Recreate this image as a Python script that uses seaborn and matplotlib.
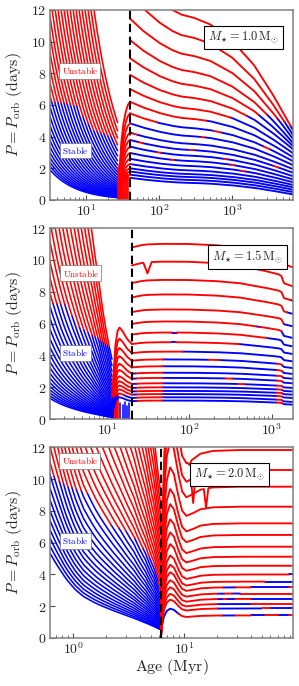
import numpy as np
import pandas as pd
import matplotlib
matplotlib.use("Agg")
import matplotlib.pyplot as plt
from matplotlib.ticker import FuncFormatter, LogLocator, NullFormatter, FixedLocator
import seaborn as sns

sns.set_style("ticks")
plt.rcParams["font.family"] = ["DejaVu Serif"]
plt.rcParams["mathtext.fontset"] = "cm"

# ---------------- general ----------------
mass_labels = ["1.0", "1.5", "2.0"]
x_limits = [(3.2, 6850.0), (2.04, 1800.0), (0.62, 96.0)]
age_break = [40.0, 20.0, 6.2]
y_ticks = [0, 2, 4, 6, 8, 10, 12]

# ================= Panel 1 : M = 1.0 =================
fan1_P0 = [1.9, 2.13, 2.38, 2.67, 2.99, 3.35, 3.75, 4.2, 4.7, 5.27, 5.9, 6.6, 7.4, 8.3,
           9.3, 10.4, 11.6, 13.0, 14.6, 16.3, 18.3, 20.5, 22.9, 25.7, 28.8, 32.2, 36.1,
           40.4, 45.2, 50.7, 56.7, 63.5]
fan1_t = [3.0, 3.2, 4.0, 5.0, 6.5, 8.0, 10.0, 12.5, 15.0, 18.0, 22.0, 27.0]
fan1_g = [1.08, 1.0, 0.765, 0.585, 0.428, 0.333, 0.255, 0.195, 0.157, 0.126, 0.099, 0.077]
crit1_left_t = [3.2, 7.8, 8.9, 12.5, 22.0, 27.0]
crit1_left_P = [6.25, 5.95, 5.3, 4.4, 4.0, 3.5]
dip1_t = [27.5, 28.3, 29.0, 29.8, 30.6, 31.4, 32.3, 33.2, 34.1, 35.0, 36.0, 37.0]
dip1_h = [2.0, 2.2, 1.9, 2.1, 1.8, 2.0, 1.9, 1.7, 1.8, 1.6, 1.7, 1.5]
dip1_c = ["r"] * 12
link1_P = [1.4, 1.6, 1.8, 2.0, 2.27, 2.6, 2.97, 3.37, 3.79, 4.25, 4.84, 5.47, 6.2]
link1_t = [28.0, 29.0, 30.5, 32.5, 35.0, 37.5, 40.0]
link1_s = [0.0, 0.35, 0.6, 0.78, 0.9, 0.97, 1.0]
link1_crit = -1.0
right1_start = [1.4, 1.6, 1.8, 2.0, 2.27, 2.6, 2.97, 3.37, 3.79, 4.25, 4.84, 5.47, 6.2,
                7.0, 7.9, 8.95, 10.1, 11.45, 13.0, 14.7]
right1_end = [0.35, 0.5, 0.65, 0.8, 0.95, 1.12, 1.3, 1.5, 1.72, 1.95, 2.2, 2.45, 2.7,
              2.95, 3.2, 3.4, 3.6, 3.85, 4.1, 4.4]
right1_t = [40, 60, 100, 150, 200, 300, 500, 1000, 2000, 3500, 5000, 6850]
right1_q = [0.0, 0.1, 0.2, 0.26, 0.29, 0.31, 0.35, 0.45, 0.6, 0.77, 0.89, 1.0]
crit1_right_t = [40, 100, 300, 600, 1500, 3000, 5000, 6850]
crit1_right_P = [5.0, 4.9, 4.9, 5.1, 5.3, 5.4, 5.0, 4.6]
flip1 = [(9, 44, 50), (8, 53, 59), (7, 93, 105), (6, 145, 160), (8, 260, 300),
         (7, 780, 850), (6, 970, 1060), (5, 1330, 1460), (8, 3700, 4300),
         (10, 380, 420), (11, 560, 700), (11, 2700, 3300)]
spike1 = []

# ================= Panel 2 : M = 1.5 =================
fan2_P0 = [1.32, 1.48, 1.66, 1.86, 2.08, 2.33, 2.61, 2.92, 3.27, 3.66, 4.1, 4.59, 5.14,
           5.76, 6.45, 7.22, 8.09, 9.06, 10.1, 11.4, 12.7, 14.3, 16.0, 17.9, 20.0, 22.4,
           25.1, 28.1, 31.5, 35.3, 39.5, 44.3]
fan2_t = [1.9, 2.0, 2.5, 3.0, 4.0, 5.0, 6.5, 8.0, 10.0, 11.5]
fan2_g = [1.05, 1.0, 0.79, 0.65, 0.48, 0.37, 0.27, 0.195, 0.12, 0.085]
crit2_left_t = [2.0, 3.2, 4.3, 6.0, 8.2, 11.0, 13.0]
crit2_left_P = [7.3, 7.2, 5.9, 5.4, 5.0, 4.5, 4.0]
dip2_t = [11.5, 11.8, 12.1, 12.4, 12.7, 13.0, 13.3, 13.6, 14.5, 15.5, 16.5, 17.5, 18.5]
dip2_h = [2.0, 1.8, 2.1, 1.9, 1.7, 2.0, 1.8, 1.6, 1.0, 0.9, 1.1, 0.8, 1.0]
dip2_c = ["r"] * 8 + ["b"] * 5
link2_P = [1.12, 1.32, 1.53, 1.73, 1.95, 2.2, 2.53, 2.85, 3.24, 3.66, 4.14, 4.71]
link2_t = [11.5, 12.0, 12.7, 13.5, 14.2, 15.5, 17.5, 20.0]
link2_s = [0.0, 0.6, 1.0, 1.18, 1.22, 1.17, 1.07, 1.0]
link2_crit = 1.5
right2_start = [1.12, 1.32, 1.53, 1.73, 1.95, 2.2, 2.53, 2.85, 3.24, 3.66, 4.14, 4.71,
                5.3, 5.97, 6.72, 7.64, 8.54, 9.65, 10.78]
right2_end = [0.9, 1.07, 1.32, 1.53, 1.73, 1.95, 2.24, 2.53, 2.83, 3.2, 3.62, 4.08,
              4.56, 5.09, 5.82, 6.6, 7.43, 8.33, 9.53]
right2_t = [20, 25, 30, 45, 90, 200, 400, 800, 1200, 1300, 1400, 1800]
right2_q = [0.0, -0.1, -0.15, -0.18, -0.18, -0.12, 0.0, 0.25, 0.42, 0.5, 0.85, 1.0]
crit2_right_t = [20, 22.5, 23.5, 46, 48, 90, 300, 800, 1300, 1800]
crit2_right_P = [3.0, 3.0, 0.5, 0.5, 3.8, 4.3, 4.6, 5.0, 5.5, 8.0]
flip2 = [(0, 1150, 1320), (1, 1150, 1320), (2, 1150, 1320), (3, 1150, 1320),
         (4, 1150, 1320), (5, 1150, 1320), (6, 1150, 1320), (7, 1150, 1320),
         (8, 1150, 1320), (9, 1150, 1320), (6, 270, 330), (5, 390, 460),
         (9, 170, 230), (11, 60, 68), (12, 62, 70), (13, 650, 720)]
spike2 = [(17, 31.0, 9.15, 0.05)]

# ================= Panel 3 : M = 2.0 =================
fan3_P0 = [5.35, 5.8, 6.3, 6.83, 7.41, 8.04, 8.72, 9.46, 10.3, 11.1, 12.1, 13.1, 14.2,
           15.4, 16.7, 18.2, 19.7, 21.4, 23.2, 25.2, 27.3, 29.6, 32.1, 34.9, 37.8, 41.0,
           44.5, 48.3, 52.4, 56.9, 61.7, 66.9, 72.6, 78.8, 85.5, 92.7]
fan3_t = [0.6, 0.62, 0.75, 0.88, 1.05, 1.24, 1.6, 2.02, 2.7, 3.53, 4.5, 5.4, 6.2]
fan3_g = [1.03, 1.0, 0.82, 0.686, 0.57, 0.49, 0.41, 0.353, 0.29, 0.235, 0.18, 0.135, 0.097]
crit3_left_t = [0.62, 0.66, 0.88, 1.29, 1.53, 2.17, 2.87, 3.79, 4.36, 5.37, 5.76, 6.2]
crit3_left_P = [10.5, 10.2, 9.55, 9.23, 8.7, 7.13, 6.82, 6.19, 5.56, 4.72, 3.88, 2.5]
dip3_t, dip3_h, dip3_c = [], [], []
link3_P, link3_t, link3_s = [], [6.2, 6.2], [1.0, 1.0]
link3_crit = -1.0
right3_start = [0.0] * 17
right3_end = [1.42, 1.86, 2.14, 2.46, 2.8, 3.19, 3.55, 4.0, 4.55, 5.12, 5.75, 6.49,
              7.22, 8.27, 9.53, 10.58, 11.84]
right3_t = [6.2, 6.3, 6.6, 7.0, 7.5, 8.1, 8.8, 9.6, 10.5, 12, 14, 18, 30, 96]
right3_q = [0.0, 0.5, 0.95, 1.2, 1.3, 1.25, 1.1, 0.97, 0.93, 0.95, 0.98, 0.995, 1.0, 1.0]
crit3_right_t = [6.2, 96]
crit3_right_P = [-1.0, -1.0]
flip3 = [(7, 88, 100), (6, 54, 100), (5, 22.5, 29), (5, 40, 88), (5, 95, 100),
         (4, 20, 23), (4, 27, 32), (3, 20, 22.5), (3, 24, 29), (3, 40, 100),
         (2, 20, 40), (1, 20, 50), (1, 60, 100), (0, 6.4, 9.0), (0, 22, 29),
         (0, 40, 54), (0, 71, 88)]
spike3 = [(16, 11.2, 10.9, 0.02), (15, 12.1, 8.5, 0.02), (14, 15.8, 8.2, 0.02)]

panels = [
    dict(fan_P0=fan1_P0, fan_t=fan1_t, fan_g=fan1_g, cl_t=crit1_left_t, cl_P=crit1_left_P,
         dip_t=dip1_t, dip_h=dip1_h, dip_c=dip1_c, link_P=link1_P, link_t=link1_t,
         link_s=link1_s, link_crit=link1_crit, r_start=right1_start, r_end=right1_end,
         r_t=right1_t, r_q=right1_q, cr_t=crit1_right_t, cr_P=crit1_right_P,
         flips=flip1, spikes=spike1),
    dict(fan_P0=fan2_P0, fan_t=fan2_t, fan_g=fan2_g, cl_t=crit2_left_t, cl_P=crit2_left_P,
         dip_t=dip2_t, dip_h=dip2_h, dip_c=dip2_c, link_P=link2_P, link_t=link2_t,
         link_s=link2_s, link_crit=link2_crit, r_start=right2_start, r_end=right2_end,
         r_t=right2_t, r_q=right2_q, cr_t=crit2_right_t, cr_P=crit2_right_P,
         flips=flip2, spikes=spike2),
    dict(fan_P0=fan3_P0, fan_t=fan3_t, fan_g=fan3_g, cl_t=crit3_left_t, cl_P=crit3_left_P,
         dip_t=dip3_t, dip_h=dip3_h, dip_c=dip3_c, link_P=link3_P, link_t=link3_t,
         link_s=link3_s, link_crit=link3_crit, r_start=right3_start, r_end=right3_end,
         r_t=right3_t, r_q=right3_q, cr_t=crit3_right_t, cr_P=crit3_right_P,
         flips=flip3, spikes=spike3),
]


def build(p, xlim, tb):
    rows = []
    run = [0]

    def emit(tt, PP, cols, grp):
        s = 0
        n = len(cols)
        for i in range(1, n + 1):
            if i == n or cols[i] != cols[s]:
                for k in range(s, i + 1):
                    rows.append((run[0], float(tt[k]), float(PP[k]), cols[s], grp))
                run[0] += 1
                s = i

    # left fan of tracks
    tt = np.geomspace(p["fan_t"][0], p["fan_t"][-1], 300)
    g = np.exp(np.interp(np.log(tt), np.log(p["fan_t"]), np.log(p["fan_g"])))
    tm = np.sqrt(tt[1:] * tt[:-1])
    crit = np.interp(np.log(tm), np.log(p["cl_t"]), p["cl_P"])
    for P0 in p["fan_P0"]:
        PP = P0 * g
        Pm = 0.5 * (PP[1:] + PP[:-1])
        emit(tt, PP, list(np.where(Pm > crit, "r", "b")), "fan")
    # dip lines
    for t, h, c in zip(p["dip_t"], p["dip_h"], p["dip_c"]):
        emit([t, t], [0.0, h], [c], "fan")
    # connecting curves
    if len(p["link_P"]):
        tt = np.geomspace(p["link_t"][0], p["link_t"][-1], 80)
        s = np.interp(np.log(tt), np.log(p["link_t"]), p["link_s"])
        for P1 in p["link_P"]:
            PP = P1 * s
            Pm = 0.5 * (PP[1:] + PP[:-1])
            emit(tt, PP, list(np.where(Pm > p["link_crit"], "r", "b")), "right")
    # right-hand tracks
    for i, (a, b) in enumerate(zip(p["r_start"], p["r_end"])):
        tt = np.geomspace(tb, xlim[1], 500)
        sp = [s for s in p["spikes"] if s[0] == i]
        for (_, ts, Ps, w) in sp:
            tt = np.union1d(tt, [ts / 10 ** w, ts, ts * 10 ** w])
        q = np.interp(np.log(tt), np.log(p["r_t"]), p["r_q"])
        PP = a + (b - a) * q
        for (_, ts, Ps, w) in sp:
            base = np.interp(np.log(ts), np.log(tt), PP)
            frac = np.clip(1 - np.abs(np.log10(tt) - np.log10(ts)) / w, 0, 1)
            PP = PP + (Ps - base) * frac
        tm = np.sqrt(tt[1:] * tt[:-1])
        Pm = 0.5 * (PP[1:] + PP[:-1])
        crit = np.interp(np.log(tm), np.log(p["cr_t"]), p["cr_P"])
        red = Pm > crit
        for (j, t0, t1) in p["flips"]:
            if j == i:
                m = (tm > t0) & (tm < t1)
                red[m] = ~red[m]
        emit(tt, PP, list(np.where(red, "r", "b")), "right")
    return pd.DataFrame(rows, columns=["run", "t", "P", "c", "grp"])


fig = plt.figure(figsize=(2.99, 6.86), dpi=100)
rects = [[0.1672, 0.7085, 0.8127, 0.277],
         [0.1672, 0.3892, 0.8127, 0.2784],
         [0.1672, 0.0700, 0.8127, 0.2777]]
mbox_pos = [(0.796, 0.855), (0.812, 0.85), (0.740, 0.86)]
unst_pos = [(0.123, 0.68), (0.127, 0.764), (0.123, 0.93)]
stab_pos = [(0.105, 0.26), (0.105, 0.346), (0.105, 0.51)]
line_width = {"fan": 1.15, "right": 1.35}


def dec_fmt(v, pos):
    return r"$10^{%d}$" % int(round(np.log10(v)))


for k, ax_rect in enumerate(rects):
    ax = fig.add_axes(ax_rect)
    ax.set_xscale("log")
    df = build(panels[k], x_limits[k], age_break[k])
    for grp in ["fan", "right"]:
        sub = df[df["grp"] == grp]
        sns.lineplot(data=sub, x="t", y="P", hue="c", units="run", estimator=None,
                     sort=False, hue_order=["b", "r"],
                     palette={"r": "#ff0000", "b": "#0000ff"}, legend=False,
                     linewidth=line_width[grp], ax=ax)
    ax.axvline(age_break[k], color="black", ls=(0, (4, 2.2)), lw=1.5, zorder=5)
    ax.set_xlim(*x_limits[k])
    ax.set_ylim(0, 12)
    ax.yaxis.set_major_locator(FixedLocator(y_ticks))
    ax.yaxis.set_major_formatter(FuncFormatter(lambda v, p: r"$%d$" % int(round(v))))
    ax.xaxis.set_major_locator(LogLocator(base=10, numticks=10))
    ax.xaxis.set_minor_locator(LogLocator(base=10, subs=np.arange(2, 10), numticks=20))
    ax.xaxis.set_major_formatter(FuncFormatter(dec_fmt))
    ax.xaxis.set_minor_formatter(NullFormatter())
    ax.tick_params(which="both", direction="in", top=False, right=False,
                   labelsize=10, pad=2.5, color="0.3")
    ax.tick_params(which="major", length=3.5, width=0.8)
    ax.tick_params(which="minor", length=2, width=0.6)
    for sp in ax.spines.values():
        sp.set_color("0.5")
        sp.set_linewidth(1.1)
    ax.set_ylabel(r"$P = P_{\rm orb}\ ({\rm days})$", fontsize=11.5)
    ax.yaxis.set_label_coords(-0.105, 0.5)
    if k == 2:
        ax.set_xlabel(r"${\rm Age\ (Myr)}$", fontsize=11.5)
        ax.xaxis.set_label_coords(0.5, -0.1)
    else:
        ax.set_xlabel("")
    ax.text(*mbox_pos[k], r"$M_{\star} = %s\,{\rm M}_{\odot}$" % mass_labels[k],
            transform=ax.transAxes, ha="center", va="center", fontsize=9, zorder=7,
            bbox=dict(boxstyle="square,pad=0.3", fc="white", ec="black", lw=0.8))
    ax.text(*unst_pos[k], r"${\rm Unstable}$", transform=ax.transAxes, ha="center",
            va="center", fontsize=6.5, color="#ff0000", zorder=7,
            bbox=dict(boxstyle="square,pad=0.25", fc="white", ec="0.45", lw=0.5))
    ax.text(*stab_pos[k], r"${\rm Stable}$", transform=ax.transAxes, ha="center",
            va="center", fontsize=6.5, color="#0000ff", zorder=7,
            bbox=dict(boxstyle="square,pad=0.25", fc="white", ec="0.45", lw=0.5))

fig.savefig("out.png", dpi=100)
